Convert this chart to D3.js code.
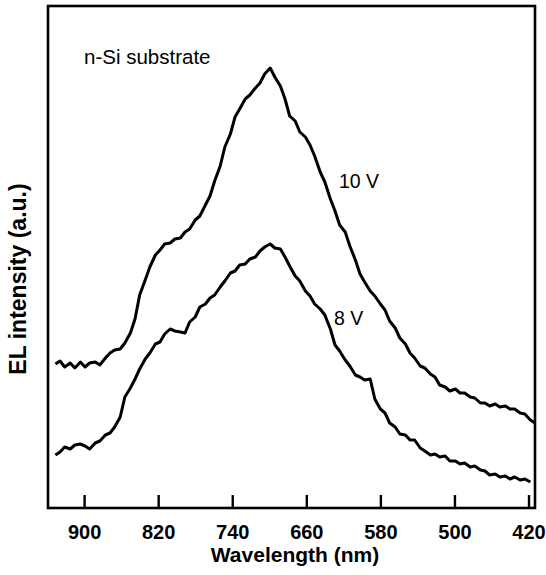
<!DOCTYPE html>
<html>
<head>
<meta charset="utf-8">
<script src="https://cdn.jsdelivr.net/npm/d3@7"></script>
<style>
  body { margin: 0; background: #fff; }
  text { font-family: "Liberation Sans", Arial, Helvetica, sans-serif; fill: #000; }
</style>
</head>
<body>
<div id="chart"></div>
<script>
// wavelength grid (nm)
var wavelengths = [931, 926, 921, 915, 910, 904, 899, 894, 888, 883, 877, 872, 867, 861, 856, 850,
  845, 840, 834, 829, 823, 818, 813, 807, 802, 796, 791, 786, 780, 775, 769, 764, 759, 753, 748,
  742, 737, 732, 726, 721, 715, 710, 705, 699, 694, 688, 683, 678, 672, 667, 661, 656, 651, 645,
  640, 634, 629, 624, 618, 613, 607, 602, 597, 591, 586, 580, 575, 570, 564, 559, 553, 548, 543,
  537, 532, 526, 521, 516, 510, 505, 499, 494, 489, 483, 478, 472, 467, 462, 456, 451, 445, 440,
  435, 429, 424, 418, 413];

// EL intensity (a.u.) at 10 V
var el10V = [144, 147, 141, 145, 140, 146, 141, 145, 146, 143, 150, 155, 158, 159, 165, 175,
  189, 213, 228, 241, 253, 258, 264, 265, 269, 270, 276, 279, 288, 292, 303, 312, 327, 342, 361,
  374, 391, 399, 409, 413, 420, 425, 434, 440, 431, 422, 409, 392, 387, 376, 371, 363, 352, 336,
  326, 309, 297, 283, 276, 262, 248, 234, 226, 217, 212, 204, 198, 187, 180, 170, 164, 155, 150,
  142, 140, 134, 131, 123, 121, 117, 119, 115, 115, 111, 110, 105, 105, 102, 104, 101, 102, 99,
  99, 95, 94, 88, 85];

// EL intensity (a.u.) at 8 V
var el8V = [53, 56, 61, 59, 63, 64, 62, 59, 65, 67, 73, 75, 81, 91, 111, 120, 129, 139, 149,
  155, 164, 166, 174, 179, 177, 176, 175, 186, 191, 201, 204, 210, 213, 221, 227, 235, 237, 243,
  244, 249, 251, 257, 261, 264, 260, 259, 251, 242, 232, 227, 217, 212, 204, 199, 193, 179, 163,
  157, 148, 142, 133, 131, 128, 129, 109, 99, 95, 85, 81, 74, 73, 68, 68, 60, 57, 53, 54, 51,
  52, 47, 47, 44, 45, 41, 42, 38, 37, 33, 34, 31, 32, 29, 31, 28, 29, 26];

var xTicks = [900, 820, 740, 660, 580, 500, 420];

var series = [
  { name: '10 V', values: el10V },
  { name: '8 V', values: el8V }
];

var W = 546, H = 575;
var margin = { top: 6, right: 11, bottom: 67, left: 48 };
var width = W - margin.left - margin.right;
var height = H - margin.top - margin.bottom;

var svg = d3.select('#chart').append('svg')
  .attr('width', W)
  .attr('height', H);

var g = svg.append('g')
  .attr('transform', 'translate(' + margin.left + ',' + margin.top + ')');

var x = d3.scaleLinear().domain([939, 413]).range([0, width]);
var y = d3.scaleLinear().domain([0, 502]).range([height, 0]);

var line = d3.line()
  .x(function (d) { return x(d[0]); })
  .y(function (d) { return y(d[1]); });

// curves
series.forEach(function (s) {
  var pts = s.values.map(function (v, i) { return [wavelengths[i], v]; });
  g.append('path')
    .datum(pts)
    .attr('fill', 'none')
    .attr('stroke', '#000')
    .attr('stroke-width', 3)
    .attr('stroke-linejoin', 'round')
    .attr('d', line);
});

// frame
g.append('rect')
  .attr('x', 0).attr('y', 0)
  .attr('width', width).attr('height', height)
  .attr('fill', 'none')
  .attr('stroke', '#000')
  .attr('stroke-width', 2.6);

// x axis, ticks pointing inward
var xAxis = d3.axisBottom(x).tickValues(xTicks).tickSizeInner(-13).tickSizeOuter(0);
var ax = g.append('g')
  .attr('transform', 'translate(0,' + height + ')')
  .call(xAxis);
ax.select('.domain').remove();
ax.selectAll('.tick line').attr('stroke', '#000').attr('stroke-width', 2.4);
ax.selectAll('.tick text')
  .attr('dy', 0)
  .attr('y', 31)
  .style('font-size', '20px')
  .style('font-weight', 'bold')
  .style('font-family', '"Liberation Sans", Arial, sans-serif');

// axis titles
svg.append('text')
  .attr('x', 295)
  .attr('y', 562)
  .attr('text-anchor', 'middle')
  .style('font-size', '21px')
  .style('font-weight', 'bold')
  .text('Wavelength (nm)');

svg.append('text')
  .attr('transform', 'translate(26,279) rotate(-90)')
  .attr('text-anchor', 'middle')
  .style('font-size', '23px')
  .style('font-weight', 'bold')
  .text('EL intensity (a.u.)');

// annotations
svg.append('text')
  .attr('x', 84)
  .attr('y', 64)
  .style('font-size', '20.5px')
  .text('n-Si substrate');

svg.append('text')
  .attr('x', 339)
  .attr('y', 188)
  .style('font-size', '19.5px')
  .text('10 V');

svg.append('text')
  .attr('x', 334)
  .attr('y', 325)
  .style('font-size', '19.5px')
  .text('8 V');
</script>
</body>
</html>
